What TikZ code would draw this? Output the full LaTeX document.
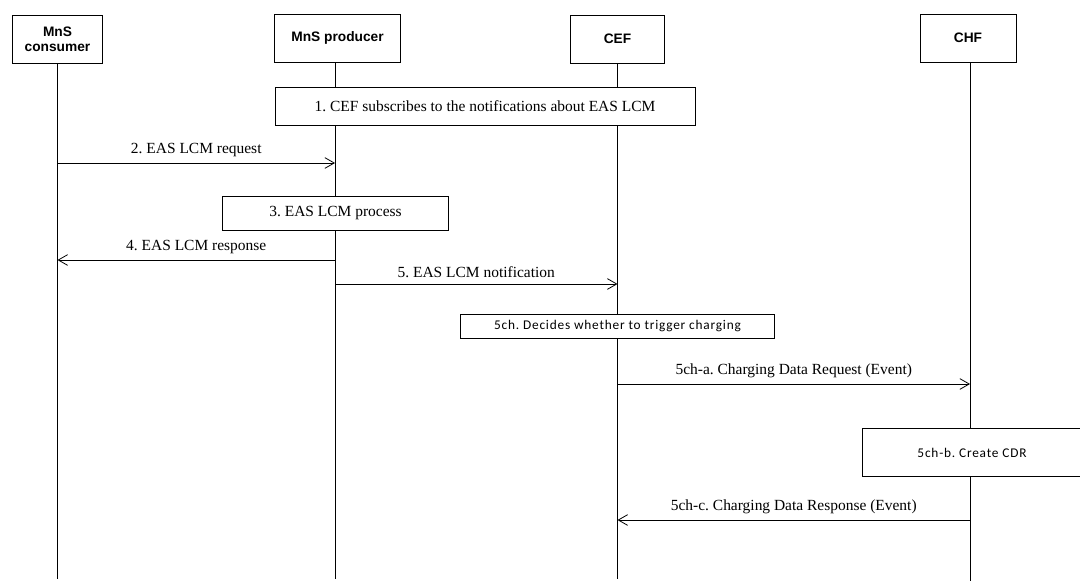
\documentclass[tikz,border=0pt]{standalone}
\usepackage{fontspec}
\setmainfont{Liberation Serif}
\newfontfamily\headfont{Liberation Sans}
\newfontfamily\boxfont[LetterSpace=6]{Carlito}
\usetikzlibrary{arrows.meta}
\frenchspacing

\begin{document}
\begin{tikzpicture}[x=0.75pt,y=-0.75pt]
		\tikzstyle{entity}=[draw, line width=0.6pt, minimum height=36pt, align=center, inner sep=1pt, font=\headfont\bfseries\fontsize{10.3}{11.5}\selectfont];
		\tikzstyle{lifeline}=[line width=0.7pt];
		\tikzstyle{action}=[draw, fill=white, line width=0.6pt, align=center, inner sep=0pt];
		\tikzstyle{msg}=[line width=0.6pt, -{Straight Barb[length=7pt,width=8pt]}];
		\tikzstyle{msglabel}=[above=1pt, font=\fontsize{11.6}{13}\selectfont];
		\useasboundingbox (0,0) rectangle (1080,581);
		% entities
		\node[entity, minimum width=68pt] (consumer) at (57.5, 39) {MnS\\consumer};
		\node[entity, minimum width=94pt] (producer) at (337.5, 38) {MnS producer};
		\node[entity, minimum width=71pt] (cef) at (617.5, 39) {CEF};
		\node[entity, minimum width=72pt] (chf) at (968, 38) {CHF};
		\coordinate (bottom) at (0, 579);
		\coordinate (prod) at (335, 0);
		\coordinate (ch) at (970, 0);
		\draw[lifeline] (consumer.south) -- (consumer.south |- bottom);
		\draw[lifeline] (producer.south -| prod) -- (prod |- bottom);
		\draw[lifeline] (cef.south) -- (cef.south |- bottom);
		\draw[lifeline] (chf.south -| ch) -- (970, 581);
		% steps
		\node[action, minimum width=315pt, minimum height=29pt, font=\fontsize{11.6}{13}\selectfont] (subscribe) at (485, 106.5) {1. CEF subscribes to the notifications about EAS LCM};
		\coordinate (y2) at (0, 163);
		\draw[msg] (consumer |- y2) -- node[msglabel] {2. EAS LCM request} (prod |- y2);
		\node[action, minimum width=169.5pt, minimum height=25.5pt, font=\fontsize{11.6}{13}\selectfont] (process) at (335.5, 213) {3. EAS LCM process};
		\coordinate (y4) at (0, 260);
		\draw[msg] (prod |- y4) -- node[msglabel] {4. EAS LCM response} (consumer |- y4);
		\coordinate (y5) at (0, 284);
		\draw[msg] (prod |- y5) -- node[msglabel] {5. EAS LCM notification} (cef |- y5);
		\node[action, minimum width=236pt, minimum height=18.5pt, font=\boxfont\fontsize{10}{12}\selectfont] (decide) at (617.5, 326.5) {5ch. Decides whether to trigger charging};
		\coordinate (ya) at (0, 384);
		\draw[msg] (cef |- ya) -- node[msglabel] {5ch-a. Charging Data Request (Event)} (ch |- ya);
		\node[action, minimum width=165pt, minimum height=36.5pt, font=\boxfont\fontsize{10}{12}\selectfont] (cdr) at (972, 452.5) {5ch-b. Create CDR};
		\coordinate (yc) at (0, 520);
		\draw[msg] (ch |- yc) -- node[msglabel] {5ch-c. Charging Data Response (Event)} (cef |- yc);
	\end{tikzpicture}
\end{document}
